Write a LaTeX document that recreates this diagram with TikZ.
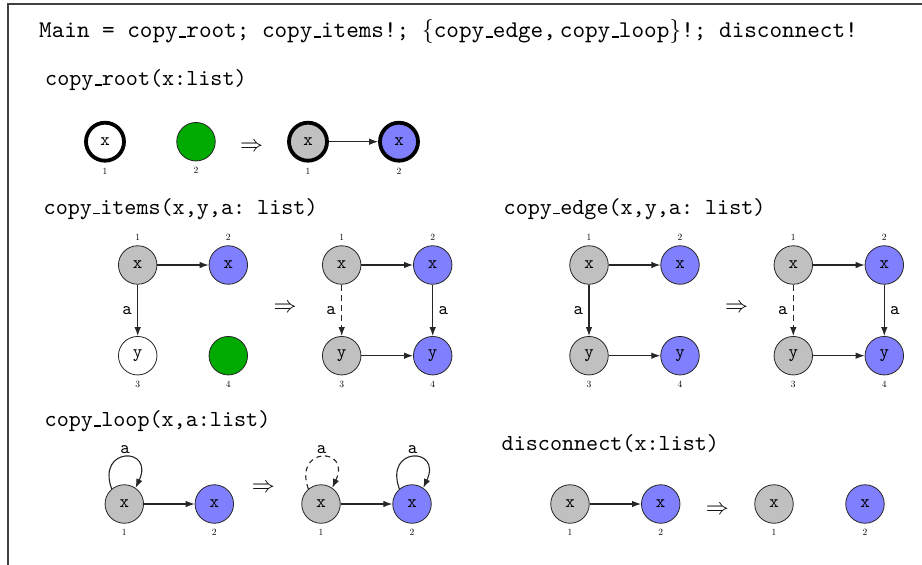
\RequirePackage{fix-cm}
\documentclass[tikz,border=0pt]{standalone}
\usepackage{fontspec}
\setmonofont{lmmono10-regular}[Extension=.otf]
\usetikzlibrary{arrows.meta}
\definecolor{grayc}{RGB}{192,192,192}
\definecolor{bluec}{RGB}{128,128,255}
\definecolor{greenc}{RGB}{0,170,0}
\newcommand\usc{\leavevmode\kern.06em\vbox{\hrule width.3em height .055em}}
\begin{document}
\frenchspacing
\begin{tikzpicture}[x=1pt,y=1pt,
  nd/.style={circle,draw=black!85,line width=0.8pt,minimum size=38.5pt,inner sep=0pt,font=\fontsize{18}{20}\selectfont\ttfamily},
  thk/.style={line width=3.8pt,draw=black,minimum size=38pt},
  gry/.style={nd,fill=grayc},
  blu/.style={nd,fill=bluec},
  grn/.style={nd,fill=greenc},
  wht/.style={nd,fill=white},
  edg/.style={-{Latex[length=9pt,width=6.5pt]},line width=1.1pt,draw=black!85},
  dsh/.style={dash pattern=on 6pt off 4pt},
  lbl/.style={font=\fontsize{9.5}{10}\selectfont,inner sep=0pt},
  elbl/.style={font=\fontsize{18}{20}\selectfont\ttfamily,inner sep=5.3pt},
  ttl/.style={anchor=base west,inner sep=0pt,font=\fontsize{23}{28}\selectfont\ttfamily\frenchspacing},
  impl/.style={font=\fontsize{23}{28}\selectfont,inner sep=0pt},
  nb/.style={label={[lbl,label distance=5.5pt]below:#1}},
  nbt/.style={label={[lbl,label distance=5pt]below:#1}},
  na/.style={label={[lbl,label distance=4.6pt]above:#1}},
  lp/.style={edg},
]
\useasboundingbox (0,0) rectangle (922,-565);
\fill[white] (0,0) rectangle (922,-565);
\draw[line width=1.2pt,black!75] (922,-4) -- (8,-4) -- (8,-565);

% titles
\node[ttl,font=\fontsize{24}{28}\selectfont\ttfamily\frenchspacing] (tmain) at (39,-37.7) {Main = copy\usc root; copy\usc items!; $\{\mbox{\ttfamily copy\usc edge,}\,\mbox{\ttfamily copy\usc loop}\}$!; disconnect!};
\node[ttl] (troot) at (45,-85.5) {copy\usc root(x:list)};
\node[ttl] (titems) at (43.5,-214) {copy\usc items(x,y,a: list)};
\node[ttl] (tedge) at (503.5,-214) {copy\usc edge(x,y,a: list)};
\node[ttl] (tloop) at (44.5,-426.7) {copy\usc loop(x,a:list)};
\node[ttl] (tdisc) at (501.5,-450.7) {disconnect(x:list)};

% copy_root
\node[wht,thk,nbt=1] (A1) at (105,-141.7) {x};
\node[grn,nb=2] (A2) at (196,-141.7) {};
\node[impl] (R1) at (251.5,-147) {$\Rightarrow$};
\node[gry,thk,nbt=1] (A3) at (308,-141.7) {x};
\node[blu,thk,nbt=2] (A4) at (399,-141.7) {x};
\draw[edg] (A3) -- (A4);

% copy_items
\node[gry,na=1] (B1) at (137.7,-265) {x};
\node[blu,na=2] (B2) at (228.3,-265) {x};
\node[wht,nb=3] (B3) at (137.7,-355.7) {y};
\node[grn,nb=4] (B4) at (228.3,-355.7) {};
\draw[edg] (B1) -- (B2);
\draw[edg] (B1) -- node[elbl,left] {a} (B3);
\node[impl] (R2) at (285,-308) {$\Rightarrow$};
\node[gry,na=1] (B5) at (341.7,-265) {x};
\node[blu,na=2] (B6) at (432.7,-265) {x};
\node[gry,nb=3] (B7) at (341.7,-355.7) {y};
\node[blu,nb=4] (B8) at (432.7,-355.7) {y};
\draw[edg] (B5) -- (B6);
\draw[edg,dsh] (B5) -- node[elbl,left] {a} (B7);
\draw[edg] (B6) -- node[elbl,right] {a} (B8);
\draw[edg] (B7) -- (B8);

% copy_edge
\node[gry,na=1] (C1) at (589,-265) {x};
\node[blu,na=2] (C2) at (680,-265) {x};
\node[gry,nb=3] (C3) at (589,-355.7) {y};
\node[blu,nb=4] (C4) at (680,-355.7) {y};
\draw[edg] (C1) -- (C2);
\draw[edg] (C1) -- node[elbl,left] {a} (C3);
\draw[edg] (C3) -- (C4);
\node[impl] (R3) at (736.7,-308) {$\Rightarrow$};
\node[gry,na=1] (C5) at (793.3,-265) {x};
\node[blu,na=2] (C6) at (884.3,-265) {x};
\node[gry,nb=3] (C7) at (793.3,-355.7) {y};
\node[blu,nb=4] (C8) at (884.3,-355.7) {y};
\draw[edg] (C5) -- (C6);
\draw[edg,dsh] (C5) -- node[elbl,left] {a} (C7);
\draw[edg] (C6) -- node[elbl,right] {a} (C8);
\draw[edg] (C7) -- (C8);

% copy_loop
\node[gry,label={[lbl,label distance=5pt]below:1}] (D1) at (124.3,-504) {x};
\node[blu,label={[lbl,label distance=5pt]below:2}] (D2) at (214.3,-504) {x};
\draw[lp] (D1.130) .. controls +(110:45.5) and +(65:45.5) .. (D1.55) node[pos=0.5,elbl,above,inner sep=3.2pt] {a};
\draw[edg] (D1) -- (D2);
\node[impl] (R4) at (263.3,-488) {$\Rightarrow$};
\node[gry,label={[lbl,label distance=5pt]below:1}] (D3) at (321,-504) {x};
\node[blu,label={[lbl,label distance=5pt]below:2}] (D4) at (412,-504) {x};
\draw[lp,dash pattern=on 5pt off 4pt] (D3.130) .. controls +(110:45.5) and +(65:45.5) .. (D3.55) node[pos=0.5,elbl,above,inner sep=3.2pt] {a};
\draw[lp] (D4.130) .. controls +(110:45.5) and +(65:45.5) .. (D4.55) node[pos=0.5,elbl,above,inner sep=3.2pt] {a};
\draw[edg] (D3) -- (D4);

% disconnect
\node[gry,nb=1] (E1) at (570,-504) {x};
\node[blu,nb=2] (E2) at (660.7,-504) {x};
\draw[edg] (E1) -- (E2);
\node[impl] (R5) at (717.3,-510) {$\Rightarrow$};
\node[gry,nb=1] (E3) at (774,-504) {x};
\node[blu,nb=2] (E4) at (865,-504) {x};
\end{tikzpicture}
\end{document}
